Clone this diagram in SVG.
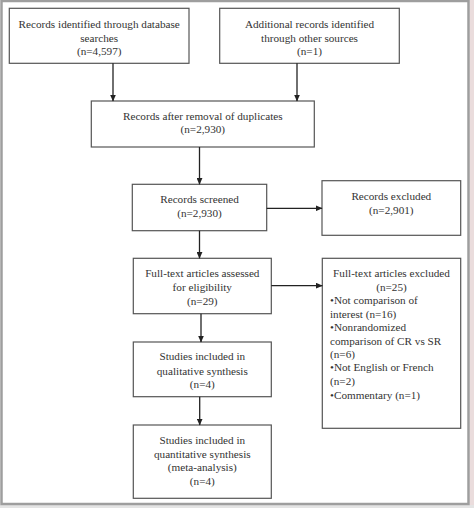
<svg xmlns="http://www.w3.org/2000/svg" width="474" height="526" viewBox="0 0 474 526">
<defs>
<style>
.box{fill:#fff;stroke:#555;stroke-width:1.2}
.t{font-family:"Liberation Serif","Times New Roman",serif;font-size:11.2px;fill:#333}
.c{text-anchor:middle}
.ln{stroke:#222;stroke-width:1.3;fill:none}
</style>
<marker id="ah" markerWidth="7" markerHeight="6" refX="6.5" refY="3" orient="auto" markerUnits="userSpaceOnUse">
<path d="M0,0 L7,3 L0,6 Z" fill="#222"/>
</marker>
</defs>
<rect x="0" y="0" width="474" height="526" fill="#fff"/>
<rect x="469.5" y="0" width="4.5" height="508" fill="#eadcdc"/>
<rect x="0" y="505" width="474" height="3" fill="#e4e4e4"/>
<rect x="1.5" y="1" width="467" height="503" fill="#fff" stroke="#9e9e9e" stroke-width="2.5"/>

<g id="n1"><rect class="box" x="9.3" y="8.3" width="179.7" height="55"/>
<text class="t c" x="99.2" y="28">Records identified through database</text>
<text class="t c" x="99.2" y="41.5">searches</text>
<text class="t c" x="99.2" y="55">(n=4,597)</text></g>

<g id="n2"><rect class="box" x="219.7" y="8.3" width="179.6" height="55"/>
<text class="t c" x="309.5" y="28">Additional records identified</text>
<text class="t c" x="309.5" y="41.5">through other sources</text>
<text class="t c" x="309.5" y="55">(n=1)</text></g>

<g id="n3"><rect class="box" x="91.3" y="101" width="223" height="46"/>
<text class="t c" x="202.8" y="120">Records after removal of duplicates</text>
<text class="t c" x="202.8" y="133">(n=2,930)</text></g>

<g id="n4"><rect class="box" x="132.3" y="184.3" width="134.4" height="46.4"/>
<text class="t c" x="199.5" y="203">Records screened</text>
<text class="t c" x="199.5" y="217">(n=2,930)</text></g>

<g id="n5"><rect class="box" x="322" y="180.7" width="138.7" height="54.6"/>
<text class="t c" x="391.3" y="199.5">Records excluded</text>
<text class="t c" x="391.3" y="213.5">(n=2,901)</text></g>

<g id="n6"><rect class="box" x="133.3" y="258.3" width="138" height="55.4"/>
<text class="t c" x="202.3" y="277">Full-text articles assessed</text>
<text class="t c" x="202.3" y="291">for eligibility</text>
<text class="t c" x="202.3" y="305">(n=29)</text></g>

<g id="n7"><rect class="box" x="322.3" y="258.3" width="138.4" height="170"/>
<text class="t c" x="391.5" y="277">Full-text articles excluded</text>
<text class="t c" x="391.5" y="291">(n=25)</text>
<text class="t" x="330" y="304">•Not comparison of</text>
<text class="t" x="330" y="317.5">interest (n=16)</text>
<text class="t" x="330" y="331">•Nonrandomized</text>
<text class="t" x="330" y="344.5">comparison of CR vs SR</text>
<text class="t" x="330" y="358">(n=6)</text>
<text class="t" x="330" y="371">•Not English or French</text>
<text class="t" x="330" y="385">(n=2)</text>
<text class="t" x="330" y="399">•Commentary (n=1)</text></g>

<g id="n8"><rect class="box" x="133.3" y="342" width="138" height="54.7"/>
<text class="t c" x="202.3" y="360">Studies included in</text>
<text class="t c" x="202.3" y="374.5">qualitative synthesis</text>
<text class="t c" x="202.3" y="388">(n=4)</text></g>

<g id="n9"><rect class="box" x="133.3" y="425" width="138" height="73.3"/>
<text class="t c" x="202.3" y="444">Studies included in</text>
<text class="t c" x="202.3" y="457.5">quantitative synthesis</text>
<text class="t c" x="202.3" y="471">(meta-analysis)</text>
<text class="t c" x="202.3" y="484.5">(n=4)</text></g>

<g id="connectors">
<line class="ln" x1="113" y1="63.3" x2="113" y2="101" marker-end="url(#ah)"/>
<line class="ln" x1="297" y1="63.3" x2="297" y2="101" marker-end="url(#ah)"/>
<line class="ln" x1="199.5" y1="147" x2="199.5" y2="184.3" marker-end="url(#ah)"/>
<line class="ln" x1="266.7" y1="208.3" x2="322" y2="208.3" marker-end="url(#ah)"/>
<line class="ln" x1="199.5" y1="230.7" x2="199.5" y2="258.3" marker-end="url(#ah)"/>
<line class="ln" x1="271.3" y1="285.7" x2="322.3" y2="285.7" marker-end="url(#ah)"/>
<line class="ln" x1="201" y1="313.7" x2="201" y2="342" marker-end="url(#ah)"/>
<line class="ln" x1="199.7" y1="396.7" x2="199.7" y2="425" marker-end="url(#ah)"/>
</g>
</svg>
